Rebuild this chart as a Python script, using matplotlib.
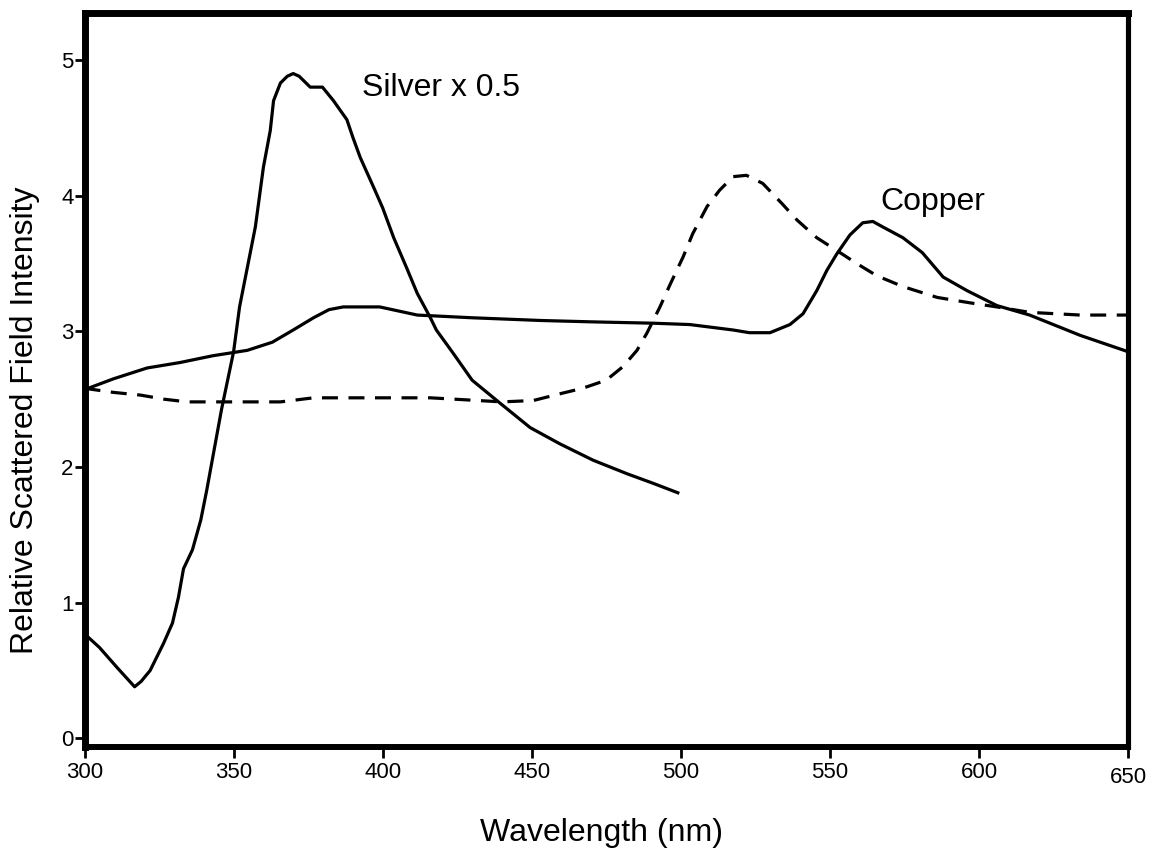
import matplotlib
matplotlib.use("Agg")
import matplotlib.pyplot as plt
import matplotlib.transforms as mtransforms

plt.rcParams['font.family'] = ['Liberation Sans', 'DejaVu Sans']

# Silver x 0.5 (solid)
silver_wl = [300, 305, 311, 316.8, 319, 322, 326.5, 329.5, 331.5, 333.2, 336.2, 339, 341, 343, 346, 350, 352, 357.3, 360, 362.3, 363.4, 365.7, 368, 370, 372, 375.7, 379.8, 383.5, 388, 390, 392.5, 397, 400, 403.7, 408, 411.6, 416, 418, 423.6, 430, 439.4, 449.5, 459.5, 470.6, 482, 490.7, 499]
silver_val = [0.77, 0.67, 0.52, 0.38, 0.42, 0.50, 0.70, 0.85, 1.04, 1.25, 1.39, 1.61, 1.83, 2.07, 2.43, 2.85, 3.18, 3.77, 4.21, 4.48, 4.70, 4.83, 4.88, 4.90, 4.88, 4.80, 4.80, 4.70, 4.56, 4.43, 4.28, 4.06, 3.91, 3.69, 3.47, 3.28, 3.10, 3.01, 2.84, 2.64, 2.47, 2.29, 2.17, 2.05, 1.95, 1.88, 1.81]

# Copper (solid)
copper_wl = [300, 309.7, 321, 332, 343, 354.6, 363, 370, 376.8, 382, 386.8, 399, 411.6, 430, 453, 470, 490.7, 503, 517.5, 523, 529.9, 536.6, 541, 545.6, 549, 552.3, 556.7, 561, 564.4, 567.7, 574.5, 581, 588, 596, 606, 617, 634, 650]
copper_val = [2.57, 2.65, 2.73, 2.77, 2.82, 2.86, 2.92, 3.01, 3.10, 3.16, 3.18, 3.18, 3.12, 3.10, 3.08, 3.07, 3.06, 3.05, 3.01, 2.99, 2.99, 3.05, 3.13, 3.30, 3.45, 3.57, 3.71, 3.80, 3.81, 3.77, 3.69, 3.58, 3.40, 3.30, 3.19, 3.12, 2.97, 2.85]

# Dashed curve
dashed_wl = [300, 309.7, 318.8, 326.6, 334.4, 354.6, 365.7, 376.8, 389, 406, 416, 440, 450.5, 459.5, 467, 475, 480.6, 485.3, 488.7, 493, 496.5, 500.8, 504, 508.8, 513, 517.5, 522, 527.5, 534, 539, 545.6, 552, 559, 565.7, 574.5, 586, 597, 606, 617, 634, 650]
dashed_val = [2.58, 2.55, 2.53, 2.50, 2.48, 2.48, 2.48, 2.51, 2.51, 2.51, 2.51, 2.48, 2.49, 2.54, 2.58, 2.64, 2.74, 2.86, 2.99, 3.18, 3.35, 3.55, 3.72, 3.92, 4.04, 4.14, 4.15, 4.09, 3.94, 3.82, 3.69, 3.60, 3.50, 3.41, 3.33, 3.25, 3.21, 3.18, 3.14, 3.12, 3.12]

xticks = [300, 350, 400, 450, 500, 550, 600, 650]
yticks = [0, 1, 2, 3, 4, 5]

fig = plt.figure(figsize=(11.5, 8.52), dpi=100)
ax = fig.add_axes([0.0735, 0.1232, 0.9074, 0.861])

lw = 2.3
ax.plot(silver_wl, silver_val, color='black', lw=lw, solid_joinstyle='round')
ax.plot(copper_wl, copper_val, color='black', lw=lw, solid_joinstyle='round')
ax.plot(dashed_wl, dashed_val, color='black', lw=lw, dashes=(5, 3.3))

ax.set_xlim(300, 650)
ax.set_ylim(-0.064, 5.343)
ax.set_xticks(xticks)
ax.set_yticks(yticks)
ax.tick_params(axis='x', length=8, width=2, pad=3, labelsize=16, direction='out')
ax.tick_params(axis='y', length=7, width=2, pad=1, labelsize=16, direction='out')

for side, w in [('left', 5), ('top', 5), ('bottom', 4.3), ('right', 3.7)]:
    ax.spines[side].set_linewidth(w)
    ax.spines[side].set_color('black')

# last x tick label sits slightly lower in the reference
labels = ax.get_xticklabels()
off = mtransforms.ScaledTranslation(0, -5 / 100, fig.dpi_scale_trans)
labels[-1].set_transform(labels[-1].get_transform() + off)

ax.text(393, 4.79, 'Silver x 0.5', fontsize=23, ha='left', va='center')
ax.text(567, 3.95, 'Copper', fontsize=23, ha='left', va='center')

fig.text(25 / 1150, 1 - 420 / 852, 'Relative Scattered Field Intensity', rotation=90,
         fontsize=23, ha='center', va='center')
fig.text(602 / 1150, 1 - 833 / 852, 'Wavelength (nm)', fontsize=23, ha='center', va='center')

fig.savefig('out.png', dpi=100)
